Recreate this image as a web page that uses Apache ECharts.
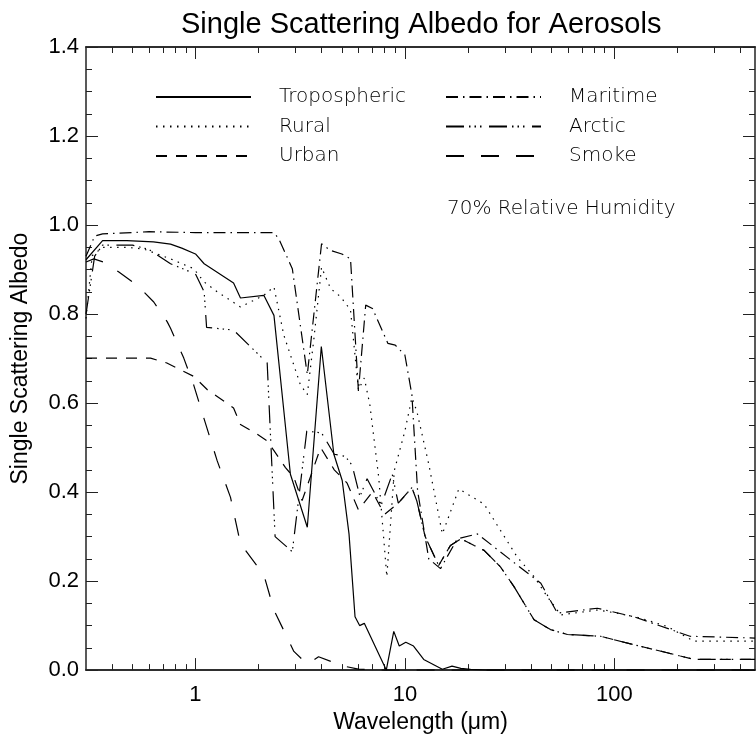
<!DOCTYPE html>
<html><head><meta charset="utf-8">
<script src="https://cdn.jsdelivr.net/npm/echarts@6/dist/echarts.min.js"></script>
<style>html,body{margin:0;padding:0;background:#fff}#c{width:756px;height:739px}</style>
</head><body><div id="c"></div>
<script>
// ---- texts ----
const titleText = 'Single Scattering Albedo for Aerosols';
const xName = 'Wavelength (\u03bcm)';
const yName = 'Single Scattering Albedo';
const noteText = '70% Relative Humidity';

// ---- axis ticks ----
const xMajorTicks = [1, 10, 100];
const xMinorTicks = [0.4,0.5,0.6,0.7,0.8,0.9,2,3,4,5,6,7,8,9,20,30,40,50,60,70,80,90,200,300,400];

// ---- data (wavelength in micrometres, albedo) ----
const tropoWl  = [0.3,0.36,0.47,0.63,0.76,0.86,1.0,1.1,1.52,1.64,2.12,2.37,2.84,3.42,3.99,4.58,5.02,5.41,5.78,6.08,6.4,7.66,8.15,8.85,9.4,10.1,11.0,12.3,15.1,16.8,18.5,20.6,25,470];
const tropoVal = [0.922,0.965,0.965,0.962,0.957,0.948,0.935,0.913,0.870,0.836,0.842,0.797,0.44,0.321,0.727,0.485,0.426,0.306,0.12,0.10,0.105,0.027,0.0,0.087,0.054,0.0625,0.054,0.024,0.002,0.009,0.004,0.0015,0,0];

const ruralWl  = [0.3,0.321,0.36,0.47,0.566,0.76,0.98,1.1,1.27,1.64,2.12,2.37,2.64,3.17,3.42,3.68,4.0,4.42,4.93,5.5,6.0,6.4,6.8,7.5,8.2,8.9,10.0,10.8,11.4,13.0,15.1,18.1,23.9,28.6,34.4,41.4,47.9,55.5,83,103,133,179,240,470];
const ruralVal = [0.79,0.931,0.95,0.95,0.946,0.924,0.902,0.872,0.85,0.816,0.842,0.861,0.753,0.641,0.619,0.746,0.905,0.857,0.839,0.809,0.63,0.656,0.597,0.433,0.21,0.448,0.537,0.612,0.582,0.463,0.306,0.407,0.373,0.314,0.254,0.21,0.165,0.124,0.135,0.128,0.117,0.098,0.065,0.065];

const urbanWl  = [0.3,0.61,0.73,0.98,1.14,1.52,1.64,1.97,2.2,2.37,2.69,2.95,3.23,3.96,4.6,5.3,6.0,7.0,8.0,9.3,10.8,11.4,12.5,14.5,16.5,18.5,23.9,28.6,33.2,41.4,49.6,59.7,86,124,179,240,470];
const urbanVal = [0.701,0.701,0.69,0.66,0.63,0.589,0.552,0.530,0.515,0.493,0.455,0.433,0.381,0.50,0.45,0.42,0.36,0.40,0.35,0.375,0.41,0.38,0.30,0.235,0.28,0.295,0.269,0.232,0.1875,0.113,0.091,0.08,0.076,0.057,0.039,0.024,0.024];

const maritimeWl  = [0.3,0.33,0.36,0.6,1.0,2.37,2.5,2.9,3.42,4.0,4.4,5.0,5.5,6.0,6.5,7.0,8.3,9.0,10.0,10.8,11.5,13.0,14.8,17.8,22.2,32.1,44.6,53.5,83,124,230,470];
const maritimeVal = [0.93,0.975,0.98,0.985,0.983,0.983,0.969,0.902,0.664,0.958,0.943,0.935,0.924,0.627,0.82,0.8125,0.734,0.73,0.708,0.619,0.403,0.25,0.228,0.295,0.306,0.247,0.195,0.128,0.139,0.12,0.076,0.072];

const arcticWl  = [0.3,0.33,0.36,0.5,0.6,0.76,1.0,1.1,1.13,1.52,2.2,2.4,2.9,3.4,4.0,4.6,5.2,5.6,6.1,6.6,7.7,8.7,9.3,10.8,11.4,12.5,14.5,16.5,18.5,23.9,28.6,33.2,41.4,49.6,59.7,86,124,179,240,470];
const arcticVal = [0.80,0.93,0.955,0.955,0.945,0.913,0.89,0.85,0.77,0.764,0.69,0.30,0.266,0.537,0.533,0.485,0.48,0.46,0.39,0.43,0.37,0.44,0.375,0.41,0.38,0.30,0.235,0.28,0.295,0.269,0.232,0.1875,0.113,0.091,0.08,0.076,0.057,0.039,0.024,0.024];

const smokeWl  = [0.3,0.327,0.363,0.429,0.526,0.632,0.732,0.76,0.879,0.98,1.095,1.27,1.47,1.64,2.12,2.37,2.95,3.42,3.87,5.0,6.0,8.0,470];
const smokeVal = [0.917,0.924,0.917,0.895,0.865,0.827,0.783,0.768,0.701,0.641,0.567,0.470,0.388,0.284,0.214,0.135,0.042,0.013,0.03,0.01,0.002,0,0];

const seriesNames = ['Tropospheric','Rural','Urban','Maritime','Arctic','Smoke'];
const seriesWl  = [tropoWl, ruralWl, urbanWl, maritimeWl, arcticWl, smokeWl];
const seriesVal = [tropoVal, ruralVal, urbanVal, maritimeVal, arcticVal, smokeVal];
const seriesDash = ['solid', [1.5,5.5], [11,9], [12,5,1.5,5], [18,5,1.5,4,1.5,4,1.5,7.5], [18,17]];

const chart = echarts.init(document.getElementById('c'), null, {renderer:'canvas'});
const AX = '#222';
const labelFont = 'Liberation Sans, Arial, Helvetica, sans-serif';
const legFont = 'DejaVu Sans, sans-serif';

function xAx(pos, ticks, len, showLabel, showName) {
  return {
    type:'log', logBase:10, min:0.3, max:470, position:pos,
    axisLine:{show:true, lineStyle:{color:AX, width:1.5}},
    axisTick:{show:true, inside:true, length:len, customValues:ticks, lineStyle:{color:AX, width:1}},
    minorTick:{show:false}, splitLine:{show:false},
    axisLabel:{show:showLabel, customValues:xMajorTicks, margin:14, fontSize:22, fontFamily:labelFont, color:'#000',
      formatter:(v)=>String(Math.round(v))},
    name: showName ? xName : '', nameLocation:'middle', nameGap:37,
    nameTextStyle:{fontSize:23, fontFamily:labelFont, color:'#000'}
  };
}
function yAx(pos, showLabel) {
  return {
    type:'value', min:0, max:1.4, interval:0.2, position:pos,
    axisLine:{show:true, lineStyle:{color:AX, width:1.5}},
    axisTick:{show:true, inside:true, length:12, lineStyle:{color:AX, width:1}},
    minorTick:{show:true, splitNumber:4, length:6, lineStyle:{color:AX, width:1}},
    splitLine:{show:false}, minorSplitLine:{show:false},
    axisLabel:{show:showLabel, margin:7, fontSize:22, fontFamily:labelFont, color:'#000', formatter:(v)=>v.toFixed(1)},
    name: showLabel ? yName : '', nameLocation:'middle', nameGap:54,
    nameTextStyle:{fontSize:23, fontFamily:labelFont, color:'#000'}
  };
}

const series = seriesNames.map((n,i)=>({
  name:n, type:'line', xAxisIndex:0, yAxisIndex:0,
  data: seriesWl[i].map((w,j)=>[w, seriesVal[i][j]]),
  symbol:'none', showSymbol:false, smooth:false, animation:false,
  lineStyle:{color:'#000', width:1.2, type:seriesDash[i], cap:'butt'},
  itemStyle:{color:'#000'}
}));

function legendAt(left, names){
  return {
    show:true, data:names, orient:'vertical', left:left, top:79, padding:0,
    itemWidth:95, itemHeight:14, itemGap:-6.5,
    itemStyle:{opacity:0, color:'rgba(0,0,0,0)', borderWidth:0},
    textStyle:{fontFamily:legFont, fontSize:20, fontWeight:200, color:'#000', lineHeight:22, padding:[0,0,14,23]},
    selectedMode:false
  };
}

chart.setOption({
  backgroundColor:'#fff',
  animation:false,
  title:{text:titleText, left:181, top:10, padding:0,
    textStyle:{fontFamily:labelFont, fontSize:29, fontWeight:'normal', color:'#000'}},
  grid:{left:86, right:1, top:47, bottom:65, containLabel:false},
  xAxis:[ xAx('bottom', xMajorTicks, 12, true, true), xAx('bottom', xMinorTicks, 6, false, false),
          xAx('top', xMajorTicks, 12, false, false), xAx('top', xMinorTicks, 6, false, false) ],
  yAxis:[ yAx('left', true), yAx('right', false) ],
  legend:[ legendAt(155, seriesNames.slice(0,3)), legendAt(445, seriesNames.slice(3)) ],
  graphic:[{type:'text', left:447, top:199, style:{text:noteText, font:'200 20px DejaVu Sans', fill:'#000'}}],
  series: series
});
</script></body></html>
